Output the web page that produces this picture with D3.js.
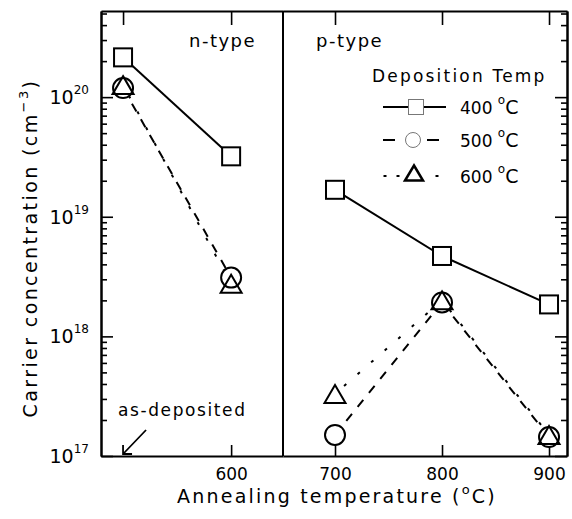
<!DOCTYPE html>
<html><head><meta charset="utf-8">
<script src="https://cdn.jsdelivr.net/npm/d3@7"></script>
<style>
body{margin:0;background:#fff;}
text{font-family:"DejaVu Sans",sans-serif;fill:#000;}
</style>
</head><body>
<svg id="c" width="572" height="519"></svg>
<script>
// ---- data ----
const annealN = [500, 600];            // 500 slot = "as-deposited"
const n400 = [2.15e20, 3.2e19];
const n500 = [1.19e20, 3.1e18];
const n600 = [1.26e20, 2.75e18];
const annealP = [700, 800, 900];
const p400 = [1.68e19, 4.7e18, 1.85e18];
const p500 = [1.5e17, 1.92e18, 1.44e17];
const p600 = [3.3e17, 2.0e18, 1.5e17];
const topTicksN = [500, 600];
const bottomTicksN = [600];
const ticksP = [700, 800, 900];
const yExponents = [17, 18, 19, 20];
const legendLabels = ["400", "500", "600"];

const svg = d3.select("#c");
const L = 101, R = 567, T = 11, B = 456, D = 283;
const xL = d3.scaleLinear().domain([479.6, 648]).range([L, D]);
const xR = d3.scaleLinear().domain([651.4, 916.8]).range([D, R]);
const y = d3.scaleLog().domain([1e17, Math.pow(10, 20.72)]).range([B, T]);

const majors = yExponents.map(e => Math.pow(10, e));
const minors = [];
yExponents.forEach(e => { for (let k = 2; k <= 9; k++) { const v = k * Math.pow(10, e); if (v <= y.domain()[1]) minors.push(v); } });

function styleAxis(g) {
  g.selectAll(".domain").attr("stroke", "#000").attr("stroke-width", 2);
  g.selectAll(".tick line").attr("stroke", "#000").attr("stroke-width", 1.6);
  g.selectAll(".tick text").style("font-family", '"DejaVu Sans",sans-serif').style("font-size", "17px").attr("fill", "#000");
}

// top axes
svg.append("g").attr("transform", `translate(0,${T})`)
  .call(d3.axisBottom(xL).tickValues(topTicksN).tickSize(14).tickSizeOuter(0).tickFormat("")).call(styleAxis);
svg.append("g").attr("transform", `translate(0,${T})`)
  .call(d3.axisBottom(xR).tickValues(ticksP).tickSize(14).tickSizeOuter(0).tickFormat("")).call(styleAxis);
// bottom axes
svg.append("g").attr("transform", `translate(0,${B})`)
  .call(d3.axisBottom(xL).tickValues(bottomTicksN).tickSizeInner(-11).tickSizeOuter(0).tickPadding(12).tickFormat(d3.format("d"))).call(styleAxis);
svg.append("g").attr("transform", `translate(0,${B})`)
  .call(d3.axisBottom(xR).tickValues(ticksP).tickSizeInner(-11).tickSizeOuter(0).tickPadding(12).tickFormat(d3.format("d"))).call(styleAxis);
// left axis
svg.append("g").attr("transform", `translate(${L},0)`)
  .call(d3.axisRight(y).tickValues(majors).tickSize(12).tickSizeOuter(0).tickFormat("")).call(styleAxis);
svg.append("g").attr("transform", `translate(${L},0)`)
  .call(d3.axisRight(y).tickValues(minors).tickSize(6).tickSizeOuter(0).tickFormat("")).call(styleAxis);
// right axis
svg.append("g").attr("transform", `translate(${R},0)`)
  .call(d3.axisLeft(y).tickValues(majors).tickSize(12).tickSizeOuter(0).tickFormat("")).call(styleAxis);
svg.append("g").attr("transform", `translate(${R},0)`)
  .call(d3.axisLeft(y).tickValues(minors).tickSize(6).tickSizeOuter(0).tickFormat("")).call(styleAxis);
// divider
svg.append("line").attr("x1", D).attr("x2", D).attr("y1", T).attr("y2", B).attr("stroke", "#000").attr("stroke-width", 2);

// y tick labels
yExponents.forEach(e => {
  const t = svg.append("text").attr("x", 89).attr("y", y(Math.pow(10, e)) + 7).attr("text-anchor", "end").style("font-size", "19px");
  t.append("tspan").text("10");
  t.append("tspan").attr("dy", -10).style("font-size", "12px").text(e);
});

// series lines, drawn segment by segment so that overlapping dashed and
// dotted segments interleave into a dash-dot look as in the reference
const dashed = { dash: "9,9", off: 0 };
const dotted = { dash: "3,15", off: 6 };
function drawSegments(xs, scale, vals, style) {
  for (let i = 0; i < vals.length - 1; i++) {
    const seg = [[xs[i], vals[i]], [xs[i + 1], vals[i + 1]]];
    const line = d3.line().x(d => scale(d[0])).y(d => y(d[1]));
    const p = svg.append("path").datum(seg).attr("d", line).attr("fill", "none").attr("stroke", "#000").attr("stroke-width", 2);
    if (style) p.attr("stroke-dasharray", style.dash).attr("stroke-dashoffset", style.off);
  }
}
drawSegments(annealN, xL, n400, null);
drawSegments(annealN, xL, n500, dashed);
drawSegments(annealN, xL, n600, dotted);
drawSegments(annealP, xR, p400, null);
drawSegments(annealP, xR, p500, dashed);
drawSegments(annealP, xR, p600, dotted);

function square(cx, cy, s, sw, col) {
  svg.append("rect").attr("x", cx - s / 2).attr("y", cy - s / 2).attr("width", s).attr("height", s)
    .attr("fill", "#fff").attr("stroke", col || "#000").attr("stroke-width", sw);
}
function circle(cx, cy, r, sw, col) {
  svg.append("circle").attr("cx", cx).attr("cy", cy).attr("r", r).attr("fill", "#fff").attr("stroke", col || "#000").attr("stroke-width", sw);
}
function triangle(cx, cy, w, h, sw, col, fill) {
  svg.append("path").attr("d", `M${cx},${cy - h / 2}L${cx + w / 2},${cy + h / 2}L${cx - w / 2},${cy + h / 2}Z`)
    .attr("fill", fill || "#fff").attr("stroke", col || "#000").attr("stroke-width", sw).attr("stroke-linejoin", "miter");
}
annealN.forEach((a, i) => square(xL(a), y(n400[i]), 18, 2));
annealP.forEach((a, i) => square(xR(a), y(p400[i]), 18, 2));
annealN.forEach((a, i) => circle(xL(a), y(n500[i]), 10, 2));
annealP.forEach((a, i) => circle(xR(a), y(p500[i]), 10, 2));
annealN.forEach((a, i) => triangle(xL(a), y(n600[i]), 21, 18, 2, "#000", "none"));
annealP.forEach((a, i) => triangle(xR(a), y(p600[i]), 21, 18, 2, "#000", i === 0 ? "#fff" : "none"));

// panel labels
svg.append("text").attr("x", 189).attr("y", 47).style("font-size", "18px").style("letter-spacing", "1.5px").text("n-type");
svg.append("text").attr("x", 316).attr("y", 47).style("font-size", "18px").style("letter-spacing", "1.5px").text("p-type");
svg.append("text").attr("x", 372).attr("y", 82).style("font-size", "17px").style("letter-spacing", "2.2px").text("Deposition Temp");

// legend
const legY = [107, 140, 176];
const lg = svg.append("g");
lg.append("line").attr("x1", 383).attr("x2", 446).attr("y1", legY[0]).attr("y2", legY[0]).attr("stroke", "#000").attr("stroke-width", 2);
lg.append("line").attr("x1", 383).attr("x2", 395).attr("y1", legY[1]).attr("y2", legY[1]).attr("stroke", "#000").attr("stroke-width", 2);
lg.append("line").attr("x1", 427).attr("x2", 439).attr("y1", legY[1]).attr("y2", legY[1]).attr("stroke", "#000").attr("stroke-width", 2);
[385, 398, 437].forEach(x => lg.append("line").attr("x1", x - 1.5).attr("x2", x + 1.5).attr("y1", legY[2]).attr("y2", legY[2]).attr("stroke", "#000").attr("stroke-width", 2));
square(416, legY[0], 15, 1, "#777");
circle(413, legY[1], 7.5, 1, "#777");
triangle(414, legY[2] - 3, 18, 15, 2.5, "#000");
legendLabels.forEach((lab, i) => {
  const t = svg.append("text").attr("x", 460).attr("y", legY[i] + 7).style("font-size", "17px");
  t.append("tspan").text(lab + " ");
  t.append("tspan").attr("dy", -10).style("font-size", "12px").text("o");
  t.append("tspan").attr("dy", 10).style("font-size", "19px").text("C");
});

// as-deposited annotation
svg.append("text").attr("x", 118).attr("y", 416).style("font-size", "17px").style("letter-spacing", "1.6px").text("as-deposited");
const tipX = xL(annealN[0]), tipY = B - 2;
svg.append("path").attr("d", `M${tipX + 23},${tipY - 24}L${tipX},${tipY}M${tipX},${tipY - 9}L${tipX},${tipY}L${tipX + 9},${tipY}`)
  .attr("fill", "none").attr("stroke", "#000").attr("stroke-width", 1.8);

// axis titles
const xt = svg.append("text").attr("x", 337).attr("y", 503).attr("text-anchor", "middle").style("font-size", "19px").style("letter-spacing", "2.2px");
xt.append("tspan").text("Annealing temperature (");
xt.append("tspan").attr("dy", -9).style("font-size", "13px").text("o");
xt.append("tspan").attr("dy", 9).text("C)");

const yt = svg.append("text").attr("transform", "translate(37,248) rotate(-90)").attr("text-anchor", "middle").style("font-size", "19px").style("letter-spacing", "2.4px");
yt.append("tspan").text("Carrier concentration (cm");
yt.append("tspan").attr("dy", -9).style("font-size", "13px").text("−3");
yt.append("tspan").attr("dy", 9).text(")");
</script>
</body></html>
